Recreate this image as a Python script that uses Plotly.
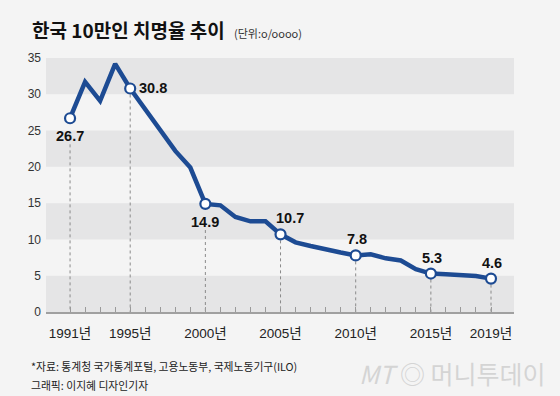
import plotly.graph_objects as go

years = list(range(1991, 2020))
rates = [26.7, 31.7, 29.1, 34.2, 30.8, 28.0, 25.1, 22.2, 19.9, 14.9,
         14.7, 13.1, 12.5, 12.5, 10.7, 9.6, 9.1, 8.6, 8.2, 7.8,
         7.95, 7.4, 7.1, 5.9, 5.3, 5.2, 5.1, 4.95, 4.6]

label_years = [1991, 1995, 2000, 2005, 2010, 2015, 2019]
label_pos = ["below", "right", "below", "above", "above", "above", "above"]
tick_labels = ["1991년", "1995년", "2000년", "2005년", "2010년", "2015년", "2019년"]
y_ticks = [0, 5, 10, 15, 20, 25, 30, 35]

BLUE = "#1d4b93"
NARROW = "Liberation Sans Narrow, Arial Narrow, Liberation Sans, Noto Sans CJK KR"
KR = "Noto Sans CJK KR, Noto Sans, sans-serif"

fig = go.Figure()

# alternating bands
for lo in y_ticks[:-1:2]:
    fig.add_shape(type="rect", xref="paper", yref="y", x0=0, x1=1, y0=lo, y1=lo + 5,
                  fillcolor="#e5e5e6", line_width=0, layer="below")

# dashed drop lines
val = dict(zip(years, rates))
for yr, pos in zip(label_years, label_pos):
    top = val[yr] - (3.6 if pos == "below" else 0)
    fig.add_trace(go.Scatter(x=[yr, yr], y=[top, 0], mode="lines",
                             line=dict(color="#8a8a8a", width=1, dash="dot"),
                             hoverinfo="skip", showlegend=False))

fig.add_trace(go.Scatter(x=years, y=rates, mode="lines",
                         line=dict(color=BLUE, width=4.5), showlegend=False))
fig.add_trace(go.Scatter(x=label_years, y=[val[y] for y in label_years], mode="markers",
                         marker=dict(size=10, color="white", line=dict(color=BLUE, width=2.2)),
                         showlegend=False))

for yr, pos in zip(label_years, label_pos):
    v = val[yr]
    txt = f"{v:.1f}"
    kw = dict(x=yr, y=v, text=f"<b>{txt}</b>", showarrow=False,
              font=dict(family=NARROW, size=14.5, color="#111"))
    if pos == "below":
        kw.update(yshift=-18)
    elif pos == "right":
        kw.update(xanchor="left", xshift=7)
    else:
        kw.update(yshift=16, xshift=(9 if yr == 2005 else 1))
    fig.add_annotation(**kw)

# title and notes
fig.add_annotation(xref="paper", yref="paper", x=-0.034, y=1.0, yshift=29, xanchor="left",
                   yanchor="middle", showarrow=False,
                   text="<b>한국 10만인 치명율 추이</b>",
                   font=dict(family=KR, size=19, color="#111", weight=900))
fig.add_annotation(xref="paper", yref="paper", x=0.398, y=1.0, yshift=25, xanchor="left",
                   yanchor="middle", showarrow=False, text="(단위:o/oooo)",
                   font=dict(family=KR, size=11, color="#333"))
fig.add_annotation(xref="paper", yref="paper", x=-0.036, y=0, yshift=-54, xanchor="left",
                   yanchor="middle", showarrow=False,
                   text="*자료: 통계청 국가통계포털, 고용노동부, 국제노동기구(ILO)",
                   font=dict(family=KR, size=10.8, color="#222"))
fig.add_annotation(xref="paper", yref="paper", x=-0.036, y=0, yshift=-73, xanchor="left",
                   yanchor="middle", showarrow=False, text="그래픽: 이지혜 디자인기자",
                   font=dict(family=KR, size=10.8, color="#222"))
fig.add_annotation(xref="paper", yref="paper", x=1.07, y=0, yshift=-61, xanchor="right",
                   yanchor="middle", showarrow=False,
                   text="<i>MT</i> ◎ 머니투데이",
                   font=dict(family=KR, size=25, color="#d4d4d4"))

fig.update_xaxes(range=[1989.4, 2020.53], tickvals=years,
                 ticktext=[tick_labels[label_years.index(y)] if y in label_years else "" for y in years],
                 ticks="inside", ticklen=5, tickwidth=1, tickcolor="#9a9a9a",
                 showline=True, linecolor="#a0a0a0", linewidth=2,
                 showgrid=False, zeroline=False, ticklabelstandoff=8,
                 tickfont=dict(family=NARROW, size=13.5, color="#222"))
fig.update_yaxes(range=[0, 35], tickvals=y_ticks, showgrid=False, zeroline=False,
                 ticks="", ticklabelstandoff=4,
                 tickfont=dict(family=NARROW, size=12, color="#333"))

fig.update_layout(width=560, height=396,
                  margin=dict(l=46, r=46, t=58, b=84),
                  paper_bgcolor="#f4f4f4", plot_bgcolor="#f4f4f4",
                  showlegend=False)

fig.write_html("out.html", config={"displayModeBar": False},
               post_script="document.body.style.margin='0';document.body.style.background='#f4f4f4';")
